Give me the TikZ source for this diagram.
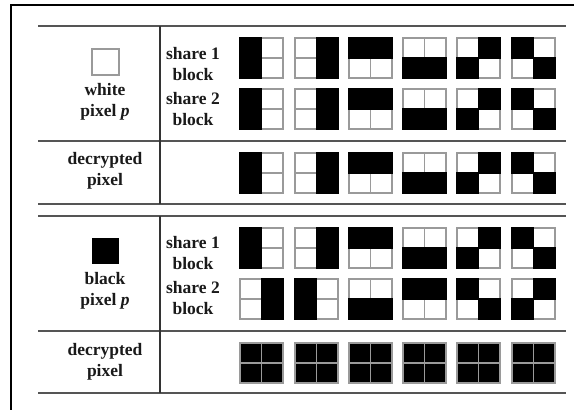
\documentclass[tikz,border=0pt]{standalone}
\usepackage{fontspec}
\setmainfont{Liberation Serif}
\definecolor{rule}{HTML}{555555}
\definecolor{cellgray}{HTML}{9A9A9A}
\definecolor{txt}{HTML}{1A1A1A}
\newcommand\blkcell[2]{\fill[black] (#1-0.55,#2-0.55) rectangle ++(22.6,21.1);}
\newcommand\blk[6]{%
  \draw[cellline] (#1+21.5,#2) -- ++(0,40);
  \draw[cellline] (#1,#2+20) -- ++(43,0);
  \draw[cellline] (#1,#2) rectangle ++(43,40);
  \ifnum#3=1 \blkcell{#1}{#2}\fi
  \ifnum#4=1 \blkcell{#1+21.5}{#2}\fi
  \ifnum#5=1 \blkcell{#1}{#2+20}\fi
  \ifnum#6=1 \blkcell{#1+21.5}{#2+20}\fi
}
\newcommand\blkfull[2]{%
  \fill[black] (#1,#2) rectangle ++(43,40);
  \draw[cellline] (#1+21.5,#2) -- ++(0,40);
  \draw[cellline] (#1,#2+20) -- ++(43,0);
  \draw[cellline] (#1,#2) rectangle ++(43,40);
}
\begin{document}
\begin{tikzpicture}[x=1pt,y=-1pt,
  cellline/.style={draw=cellgray,line width=1.1pt},
  tabrule/.style={draw=rule,line width=1.8pt},
  vrule/.style={draw=black!80,line width=1.5pt},
  lbl/.style={text=txt,font=\fontsize{17.5}{20.5}\selectfont\bfseries,align=center,inner sep=0pt}]
\useasboundingbox (0,0) rectangle (574,410);
\fill[white] (0,0) rectangle (574,410);
% frame
\draw[black,line width=1.8pt] (11,410) -- (11,5) -- (574,5);
% table rules
\foreach \yy in {26,141,204,216,331,393} \draw[tabrule] (38,\yy) -- (566,\yy);
\draw[vrule] (160,26) -- (160,204);
\draw[vrule] (160,216) -- (160,393);
% pixel squares
\draw[cellgray,line width=1.4pt] (92,49) rectangle (119,75);
\fill[black] (92,238) rectangle (119,264);
% labels
\node[lbl] (wp) at (105,102) {white\\pixel \textit{p}};
\node[lbl] (s1a) at (193,64) {share 1\\block};
\node[lbl] (s2a) at (193,109) {share 2\\block};
\node[lbl] (dpa) at (105,171) {decrypted\\pixel};
\node[lbl] (bp) at (105,291) {black\\pixel \textit{p}};
\node[lbl] (s1b) at (193,253) {share 1\\block};
\node[lbl] (s2b) at (193,298) {share 2\\block};
\node[lbl] (dpb) at (105,362) {decrypted\\pixel};
% white pixel blocks
\blk{240}{38}{1}{0}{1}{0}\blk{295}{38}{0}{1}{0}{1}\blk{349}{38}{1}{1}{0}{0}
\blk{403}{38}{0}{0}{1}{1}\blk{457}{38}{0}{1}{1}{0}\blk{512}{38}{1}{0}{0}{1}
\blk{240}{89}{1}{0}{1}{0}\blk{295}{89}{0}{1}{0}{1}\blk{349}{89}{1}{1}{0}{0}
\blk{403}{89}{0}{0}{1}{1}\blk{457}{89}{0}{1}{1}{0}\blk{512}{89}{1}{0}{0}{1}
\blk{240}{153}{1}{0}{1}{0}\blk{295}{153}{0}{1}{0}{1}\blk{349}{153}{1}{1}{0}{0}
\blk{403}{153}{0}{0}{1}{1}\blk{457}{153}{0}{1}{1}{0}\blk{512}{153}{1}{0}{0}{1}
% black pixel blocks
\blk{240}{228}{1}{0}{1}{0}\blk{295}{228}{0}{1}{0}{1}\blk{349}{228}{1}{1}{0}{0}
\blk{403}{228}{0}{0}{1}{1}\blk{457}{228}{0}{1}{1}{0}\blk{512}{228}{1}{0}{0}{1}
\blk{240}{279}{0}{1}{0}{1}\blk{295}{279}{1}{0}{1}{0}\blk{349}{279}{0}{0}{1}{1}
\blk{403}{279}{1}{1}{0}{0}\blk{457}{279}{1}{0}{0}{1}\blk{512}{279}{0}{1}{1}{0}
\blkfull{240}{343}\blkfull{295}{343}\blkfull{349}{343}
\blkfull{403}{343}\blkfull{457}{343}\blkfull{512}{343}
\end{tikzpicture}
\end{document}
